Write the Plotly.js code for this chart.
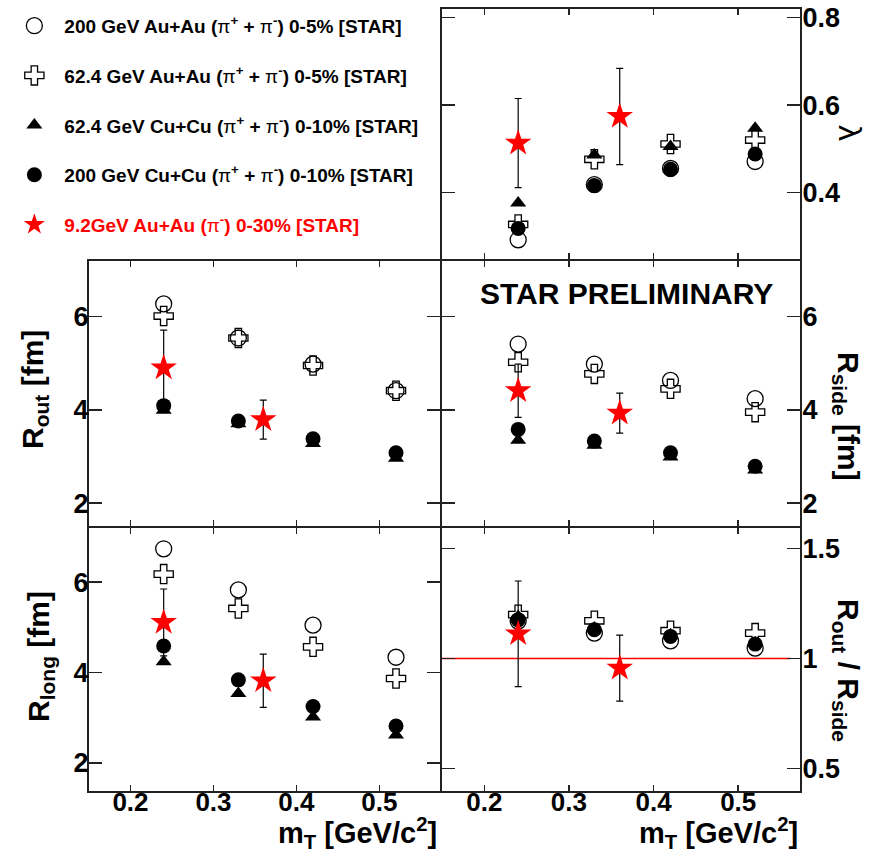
<!DOCTYPE html>
<html>
<head>
<meta charset="utf-8">
<script src="https://cdn.plot.ly/plotly-3.0.1.min.js"></script>
<style>html,body{margin:0;padding:0;background:#fff;}#chart{width:872px;height:855px;}</style>
</head>
<body>
<div id="chart"></div>
<script>
// ---------- data ----------
const mT = [0.24, 0.33, 0.42, 0.52];
const mT92 = [0.24, 0.36];

const lambda_AuAu200 = [0.292, 0.418, 0.455, 0.471];
const lambda_AuAu62  = [0.327, 0.476, 0.511, 0.520];
const lambda_CuCu62  = [0.376, 0.486, 0.505, 0.547];
const lambda_CuCu200 = [0.318, 0.416, 0.453, 0.488];
const lambda_AuAu92  = [0.513, 0.574];
const lambda_AuAu92_err = [0.102, 0.110];

const Rout_AuAu200 = [6.27, 5.54, 4.98, 4.41];
const Rout_AuAu62  = [6.01, 5.54, 4.95, 4.41];
const Rout_CuCu62  = [3.99, 3.70, 3.28, 2.96];
const Rout_CuCu200 = [4.09, 3.76, 3.38, 3.08];
const Rout_AuAu92  = [4.90, 3.79];
const Rout_AuAu92_err = [0.81, 0.42];

const Rside_AuAu200 = [5.41, 4.98, 4.63, 4.24];
const Rside_AuAu62  = [5.02, 4.77, 4.45, 3.95];
const Rside_CuCu62  = [3.35, 3.24, 2.99, 2.71];
const Rside_CuCu200 = [3.58, 3.33, 3.08, 2.79];
const Rside_AuAu92  = [4.41, 3.93];
const Rside_AuAu92_err = [0.57, 0.43];

const Rlong_AuAu200 = [6.74, 5.83, 5.05, 4.34];
const Rlong_AuAu62  = [6.18, 5.42, 4.57, 3.87];
const Rlong_CuCu62  = [4.24, 3.54, 3.02, 2.62];
const Rlong_CuCu200 = [4.59, 3.84, 3.25, 2.82];
const Rlong_AuAu92  = [5.11, 3.82];
const Rlong_AuAu92_err = [0.74, 0.59];

const ratio_AuAu200 = [1.170, 1.115, 1.080, 1.047];
const ratio_AuAu62  = [1.199, 1.171, 1.126, 1.115];
const ratio_CuCu62  = [1.190, 1.138, 1.108, 1.070];
const ratio_CuCu200 = [1.175, 1.130, 1.100, 1.065];
const ratio_AuAu92  = [1.112, 0.956];
const ratio_AuAu92_err = [0.24, 0.15];

const xTicks = [0.2, 0.3, 0.4, 0.5];
const xTickLabels = ['0.2', '0.3', '0.4', '0.5'];
const RTicks = [2, 4, 6];
const lambdaTicks = [0.4, 0.6, 0.8];
const ratioTicks = [0.5, 1, 1.5];

const PI = '<span style="font-weight:normal">π</span>';
const seriesNames = {
  AuAu200: '200 GeV Au+Au (' + PI + '<sup>+</sup> + ' + PI + '<sup>-</sup>) 0-5% [STAR]',
  AuAu62:  '62.4 GeV Au+Au (' + PI + '<sup>+</sup> + ' + PI + '<sup>-</sup>) 0-5% [STAR]',
  CuCu62:  '62.4 GeV Cu+Cu (' + PI + '<sup>+</sup> + ' + PI + '<sup>-</sup>) 0-10% [STAR]',
  CuCu200: '200 GeV Cu+Cu (' + PI + '<sup>+</sup> + ' + PI + '<sup>-</sup>) 0-10% [STAR]',
  AuAu92:  '<span style="color:#ff0000">9.2GeV Au+Au (' + PI + '<sup>-</sup>) 0-30% [STAR]</span>'
};

// ---------- styles ----------
const styles = {
  AuAu200: {symbol: 'circle-open', size: 16, color: '#000', line: {color: '#000', width: 1.3}, rank: 1},
  AuAu62:  {symbol: 'cross-open', size: 16, color: '#000', line: {color: '#000', width: 1.3}, rank: 2},
  CuCu200: {symbol: 'circle', size: 15, color: '#000', line: {color: '#000', width: 0}, rank: 4},
  CuCu62:  {symbol: 'triangle-up', size: 14, color: '#000', line: {color: '#000', width: 0}, rank: 3},
  AuAu92:  {symbol: 'star', size: 20, color: '#ff0000', line: {color: '#ff0000', width: 0}, rank: 5}
};

const panels = [
  {xa: 'x5', ya: 'y5', legend: true, d: {AuAu200: lambda_AuAu200, AuAu62: lambda_AuAu62, CuCu200: lambda_CuCu200, CuCu62: lambda_CuCu62, AuAu92: lambda_AuAu92}, err: lambda_AuAu92_err},
  {xa: 'x',  ya: 'y',  d: {AuAu200: Rout_AuAu200, AuAu62: Rout_AuAu62, CuCu200: Rout_CuCu200, CuCu62: Rout_CuCu62, AuAu92: Rout_AuAu92}, err: Rout_AuAu92_err},
  {xa: 'x2', ya: 'y2', d: {AuAu200: Rside_AuAu200, AuAu62: Rside_AuAu62, CuCu200: Rside_CuCu200, CuCu62: Rside_CuCu62, AuAu92: Rside_AuAu92}, err: Rside_AuAu92_err},
  {xa: 'x3', ya: 'y3', d: {AuAu200: Rlong_AuAu200, AuAu62: Rlong_AuAu62, CuCu200: Rlong_CuCu200, CuCu62: Rlong_CuCu62, AuAu92: Rlong_AuAu92}, err: Rlong_AuAu92_err},
  {xa: 'x4', ya: 'y4', d: {AuAu200: ratio_AuAu200, AuAu62: ratio_AuAu62, CuCu200: ratio_CuCu200, CuCu62: ratio_CuCu62, AuAu92: ratio_AuAu92}, err: ratio_AuAu92_err}
];

const drawOrder = ['AuAu200', 'AuAu62', 'CuCu200', 'CuCu62', 'AuAu92'];
const traces = [];
panels.forEach(p => {
  drawOrder.forEach(k => {
    const st = styles[k];
    const t = {
      type: 'scatter', mode: 'markers',
      x: k === 'AuAu92' ? mT92 : mT,
      y: p.d[k],
      xaxis: p.xa, yaxis: p.ya,
      name: seriesNames[k],
      legendgroup: k, legendrank: st.rank,
      showlegend: !!p.legend,
      cliponaxis: false,
      marker: {symbol: st.symbol, size: st.size, color: st.color, line: st.line}
    };
    if (k === 'AuAu92') {
      t.error_y = {type: 'data', array: p.err, visible: true, color: '#000', thickness: 1.2, width: 3.5};
    }
    traces.push(t);
  });
});

// ---------- layout ----------
const FONT = 'Liberation Sans, Arial, Helvetica, sans-serif';
const tickFont = {family: FONT, size: 27, color: '#000', weight: 'bold'};
const xTickFont = {family: FONT, size: 26, color: '#000', weight: 'bold'};
const xL = [89/872, 440/872], xR = [442/872, 800/872];
const yTop = [1 - 259/855, 1 - 9.3/855], yMid = [1 - 526/855, 1 - 261/855], yBot = [1 - 791/855, 1 - 528/855];
const xRange = [0.15, 0.573];

function xaxis(domain, anchor, labels) {
  return {domain: domain, anchor: anchor, range: xRange, showgrid: false, zeroline: false,
    showline: true, linecolor: '#222', linewidth: 2, mirror: 'ticks',
    ticks: 'inside', ticklen: 6, tickwidth: 1.5, tickcolor: '#222',
    tickvals: xTicks, ticktext: xTickLabels, showticklabels: labels, tickfont: xTickFont,
    ticklabelstandoff: -13, fixedrange: true};
}
function yaxis(domain, anchor, range, tv, side) {
  return {domain: domain, anchor: anchor, range: range, side: side, showgrid: false, zeroline: false,
    showline: true, linecolor: '#222', linewidth: 2, mirror: 'ticks',
    ticks: 'inside', ticklen: 13, tickwidth: 1.5, tickcolor: '#222',
    tickvals: tv, ticktext: tv.map(v => String(v)), tickfont: tickFont,
    ticklabelstandoff: side === 'left' ? -7 : -5, fixedrange: true};
}

const titleFont = {family: FONT, size: 30, color: '#000', weight: 'bold'};
const layout = {
  width: 872, height: 855, autosize: false,
  margin: {l: 0, r: 0, t: 0, b: 0},
  paper_bgcolor: '#fff', plot_bgcolor: 'rgba(0,0,0,0)',
  xaxis: xaxis(xL, 'y', false),
  yaxis: yaxis(yMid, 'x', [1.51, 7.19], RTicks, 'left'),
  xaxis2: xaxis(xR, 'y2', false),
  yaxis2: yaxis(yMid, 'x2', [1.51, 7.19], RTicks, 'right'),
  xaxis3: xaxis(xL, 'y3', true),
  yaxis3: yaxis(yBot, 'x3', [1.38, 7.2], RTicks, 'left'),
  xaxis4: xaxis(xR, 'y4', true),
  yaxis4: yaxis(yBot, 'x4', [0.397, 1.593], ratioTicks, 'right'),
  xaxis5: xaxis(xR, 'y5', false),
  yaxis5: yaxis(yTop, 'x5', [0.248, 0.819], lambdaTicks, 'right'),
  showlegend: true,
  legend: {x: 0.005, y: 0.992, xanchor: 'left', yanchor: 'top', traceorder: 'grouped',
    tracegroupgap: 22, itemwidth: 50, bgcolor: 'rgba(0,0,0,0)', borderwidth: 0,
    font: {family: FONT, size: 19, color: '#000', weight: 'bold'}, itemclick: false, itemdoubleclick: false},
  shapes: [
    {type: 'line', xref: 'x4', yref: 'y4', x0: 0.15, x1: 0.562, y0: 1, y1: 1, line: {color: '#ff0000', width: 1.5}, layer: 'below'}
  ],
  annotations: [
    {text: 'R<sub>out</sub> [fm]', xref: 'paper', yref: 'paper', x: 34/872, y: 1 - 390/855, textangle: -90, showarrow: false, font: titleFont, xanchor: 'center', yanchor: 'middle'},
    {text: 'R<sub>long</sub> [fm]', xref: 'paper', yref: 'paper', x: 40/872, y: 1 - 657/855, textangle: -90, showarrow: false, font: titleFont, xanchor: 'center', yanchor: 'middle'},
    {text: 'R<sub>side</sub> [fm]', xref: 'paper', yref: 'paper', x: 847/872, y: 1 - 416/855, textangle: 90, showarrow: false, font: titleFont, xanchor: 'center', yanchor: 'middle'},
    {text: 'R<sub>out</sub> / R<sub>side</sub>', xref: 'paper', yref: 'paper', x: 847/872, y: 1 - 670/855, textangle: 90, showarrow: false, font: titleFont, xanchor: 'center', yanchor: 'middle'},
    {text: 'λ', xref: 'paper', yref: 'paper', x: 850/872, y: 1 - 133/855, textangle: 90, showarrow: false, font: {family: FONT, size: 32, color: '#000'}, xanchor: 'center', yanchor: 'middle'},
    {text: 'm<sub>T</sub> [GeV/c<sup>2</sup>]', xref: 'paper', yref: 'paper', x: 439/872, y: 0, showarrow: false, font: {family: FONT, size: 29, color: '#000', weight: 'bold'}, xanchor: 'right', yanchor: 'bottom'},
    {text: 'm<sub>T</sub> [GeV/c<sup>2</sup>]', xref: 'paper', yref: 'paper', x: 800/872, y: 0, showarrow: false, font: {family: FONT, size: 29, color: '#000', weight: 'bold'}, xanchor: 'right', yanchor: 'bottom'},
    {text: 'STAR PRELIMINARY', xref: 'paper', yref: 'paper', x: 626/872, y: 1 - 293/855, showarrow: false, font: {family: FONT, size: 30, color: '#000', weight: 'bold'}, xanchor: 'center', yanchor: 'middle'}
  ]
};

Plotly.newPlot('chart', traces, layout, {displayModeBar: false, staticPlot: true});
</script>
</body>
</html>
